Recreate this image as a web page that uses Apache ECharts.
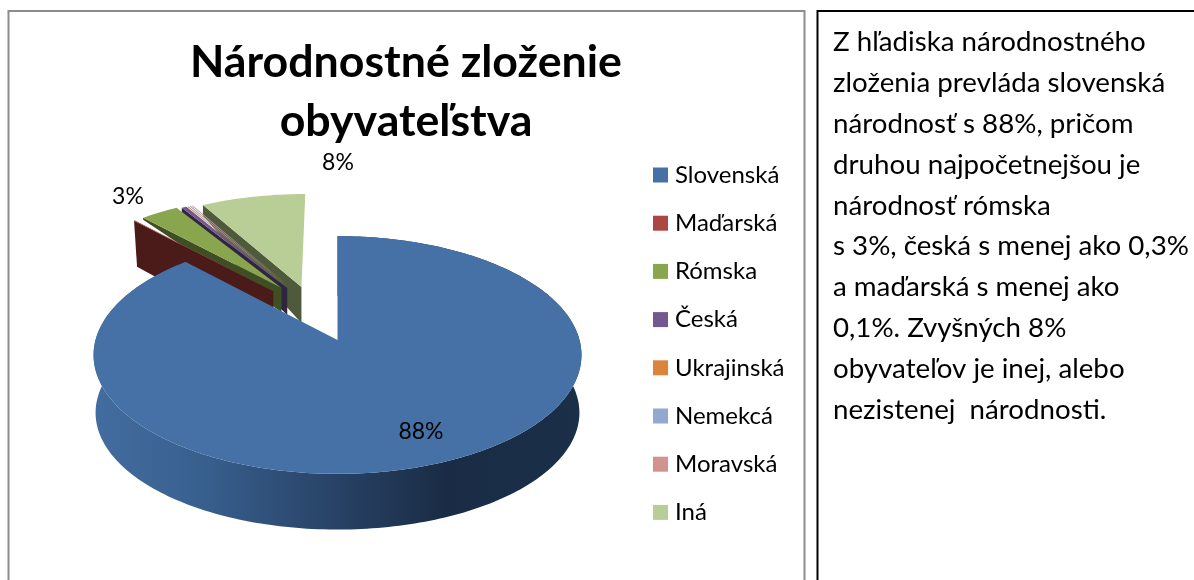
<!DOCTYPE html>
<html>
<head>
<meta charset="utf-8">
<script src="https://cdn.jsdelivr.net/npm/echarts@6/dist/echarts.min.js"></script>
<style>html,body{margin:0;padding:0;background:#fff}#c{width:1194px;height:580px}</style>
</head>
<body>
<div id="c"></div>
<script>
// ---- data ----
const categories = ['Slovenská','Maďarská','Rómska','Česká','Ukrajinská','Nemekcá','Moravská','Iná'];
const shares = [88, 0.1, 3, 0.4, 0.1, 0.1, 0.1, 8.2];
const shownLabels = ['88%', '', '3%', '', '', '', '', '8%'];
const titleText = 'Národnostné zloženie\nobyvateľstva';
const paragraphLines = [
  'Z hľadiska národnostného',
  'zloženia prevláda slovenská',
  'národnosť s 88%, pričom',
  'druhou najpočetnejšou je',
  'národnosť rómska',
  's 3%, česká s menej ako 0,3%',
  'a maďarská s menej ako',
  '0,1%. Zvyšných 8%',
  'obyvateľov je inej, alebo',
  'nezistenej  národnosti.'
];

// ---- styles and projection settings (not data) ----
const topColors  = ['#4571a7','#aa4643','#89a54e','#71588f','#db843d','#93a9cf','#d19392','#b9cd96'];
const wallColors = ['#1a2c45','#4a1b18','#3f4f24','#2f2540','#6e421e','#4a5568','#6a4a49','#4f5a3b'];
const explode = [[0,0],[-0.28,0.44],[-0.245,0.47],[-0.22,0.47],[-0.215,0.47],[-0.21,0.47],[-0.205,0.47],[-0.158,0.48]];
const wallDepth = [[55,55],[46,50],[2,24],[5,27],[0,0],[0,0],[0,0],[11,36]]; // outer end, apex end
const drawOrder = [7,6,5,4,3,2,1,0];
const labelPos = [[421,432],null,[128,197],null,null,null,null,[338,163]];
const P = {cx:337.5, cy:340, a:242, b:117, k:0.126};
const B = {cx:337.5, cy:398, a:240, b:115, k:0.126};
const UI = 'Lato, "Open Sans", sans-serif';

function proj(u, v, p) {
  const w = 1 + p.k * v;
  return [p.cx + p.a * u / w, p.cy - p.b * v / w];
}
const total = shares.reduce((s, x) => s + x, 0);
function sliceStart(i) {
  let before = 0;
  for (let j = 0; j < i; j++) before += shares[j];
  return before / total * 2 * Math.PI;
}

function renderSlice(i) {
  return function (params, api) {
    const value = api.value(0);
    const t0 = sliceStart(i);
    const t1 = t0 + value / total * 2 * Math.PI;
    const [du, dv] = explode[i];
    const children = [];
    const steps = Math.max(2, Math.ceil((t1 - t0) / 0.02));
    const arc = [];
    for (let s = 0; s <= steps; s++) {
      const t = t0 + (t1 - t0) * s / steps;
      arc.push([du + Math.sin(t), dv + Math.cos(t)]);
    }
    const topArc = arc.map(q => proj(q[0], q[1], P));
    if (i === 0) {
      const botArc = arc.map(q => proj(q[0], q[1], B));
      children.push({type:'polygon', shape:{points: topArc.concat(botArc.slice().reverse())},
        style:{fill:new echarts.graphic.LinearGradient(0,0,1,0,[
          {offset:0,color:'#436d9f'},{offset:0.22,color:'#38608f'},{offset:0.48,color:'#294468'},
          {offset:0.72,color:'#1a2c45'},{offset:1,color:'#1b2f49'}])}});
      children.push({type:'polygon', shape:{points:[proj(0,0,P)].concat(topArc)}, style:{fill:topColors[i]}});
    } else {
      const [farD, apexD] = wallDepth[i];
      const apex = proj(du, dv, P);
      const out = topArc[0];
      if (apexD > 0) {
        children.push({type:'polygon', shape:{points:[out, apex, [apex[0], apex[1] + apexD], [out[0] + (i === 1 ? 3 : 0), out[1] + farD]]},
          style:{fill:wallColors[i]}});
      }
      children.push({type:'polygon', shape:{points:[apex].concat(topArc)}, style:{fill:topColors[i]}});
    }
    if (shownLabels[i]) {
      children.push({type:'text', z2:10, style:{text:shownLabels[i], x:labelPos[i][0], y:labelPos[i][1],
        align:'center', verticalAlign:'middle', fill:'#000', fontSize:23, fontFamily:UI}});
    }
    return {type:'group', children};
  };
}

const series = categories.map((name, i) => ({
  type:'custom', name, coordinateSystem:'none', silent:true,
  z: 2 + drawOrder[i],
  itemStyle:{color:topColors[i]},
  renderItem: renderSlice(i),
  data:[[shares[i]]],
  animation:false
}));

const frames = [
  {type:'polyline', shape:{points:[[8.5,580],[8.5,11],[804.5,11],[804.5,580]]}, style:{stroke:'#8c8c8c', lineWidth:2, fill:'none'}},
  {type:'polyline', shape:{points:[[817.5,580],[817.5,11],[1194,11]]}, style:{stroke:'#000', lineWidth:2, fill:'none'}}
];
const textEls = paragraphLines.map((line, i) => ({
  type:'text', x:833, y:42 + i * 40.9,
  style:{text:line, fill:'#000', fontSize:27.7, fontFamily:UI, verticalAlign:'middle'}
}));

const chart = echarts.init(document.getElementById('c'), null, {renderer:'canvas'});
chart.setOption({
  animation:false,
  backgroundColor:'#fff',
  title:{text:titleText, left:401, top:28, textAlign:'center',
    textStyle:{fontFamily:UI, fontWeight:'bold', fontSize:44.7, lineHeight:59, color:'#000'}},
  legend:{orient:'vertical', left:648, top:158, itemWidth:15, itemHeight:15, itemGap:24.2, icon:'rect',
    data:categories, selectedMode:false,
    textStyle:{fontFamily:UI, fontSize:24, color:'#000', padding:[0,0,0,2]}},
  graphic:frames.concat(textEls),
  series
});
</script>
</body>
</html>
